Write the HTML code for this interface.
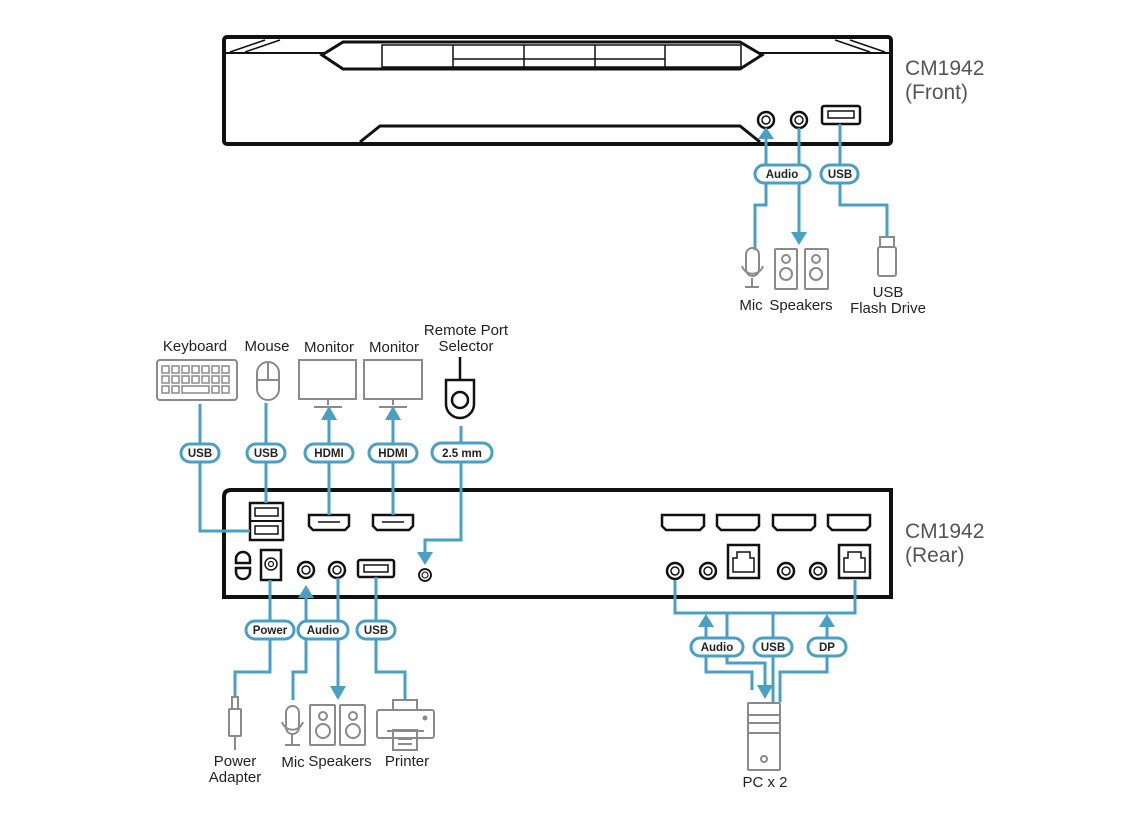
<!DOCTYPE html>
<html><head><meta charset="utf-8"><style>
html,body{margin:0;padding:0;background:#fff;}
svg{display:block;}
.t{font-family:"Liberation Sans",sans-serif;font-size:15px;fill:#222;}
.big{font-family:"Liberation Sans",sans-serif;font-size:21px;fill:#555;}
.pl{font-family:"Liberation Sans",sans-serif;font-size:11.5px;font-weight:bold;fill:#222;}
</style></head><body>
<svg width="1140" height="821" viewBox="0 0 1140 821" xmlns="http://www.w3.org/2000/svg">
<defs>
<g id="jack"><circle r="8" fill="#fff" stroke="#111" stroke-width="2.5"/><circle r="4" fill="none" stroke="#111" stroke-width="1.5"/></g>
</defs>
<!-- FRONT DEVICE -->
<g fill="none" stroke="#111">
<rect x="224" y="37" width="667" height="107" rx="3" stroke-width="4"/>
<line x1="226" y1="53" x2="889" y2="53" stroke-width="2"/>
<line x1="230" y1="52" x2="265" y2="40" stroke-width="1.5"/>
<line x1="245" y1="52" x2="280" y2="40" stroke-width="1.5"/>
<line x1="885" y1="52" x2="850" y2="40" stroke-width="1.5"/>
<line x1="870" y1="52" x2="835" y2="40" stroke-width="1.5"/>
<path d="M322 55 L343 42 L740 42 L762 55 L740 69 L343 69 Z" fill="#fff" stroke-width="3"/>
<rect x="382" y="45" width="359" height="22" stroke-width="1.5"/>
<path d="M453 45V67M524 45V67M595 45V67M665 45V67M453 59H665" stroke-width="1.5"/>
<path d="M360 142 L380 126 L740 126 L760 142" stroke-width="3"/>
<rect x="822" y="106" width="38" height="18" rx="2" stroke-width="2.5"/>
<rect x="828" y="111" width="26" height="7" stroke-width="1.5"/>
</g>
<use href="#jack" x="766" y="120"/><use href="#jack" x="799" y="120"/>
<text class="big" x="905" y="75">CM1942</text>
<text class="big" x="905" y="99">(Front)</text>

<!-- front connectors -->
<g fill="none" stroke="#4a9fc4" stroke-width="3">
<path d="M766 138V166M766 183V205H755V250"/>
<path d="M799 128V232"/>
<path d="M840 124V166M840 183V205H887V237"/>
</g>
<g fill="#4a9fc4"><path d="M758 139H774L766 127Z"/><path d="M791 232H807L799 245Z"/></g>
<g fill="#fff" stroke="#4a9fc4" stroke-width="3">
<rect x="755" y="165" width="55" height="18" rx="9"/><rect x="821" y="165" width="37" height="18" rx="9"/>
</g>
<text class="pl" x="782" y="178" text-anchor="middle">Audio</text>
<text class="pl" x="840" y="178" text-anchor="middle">USB</text>
<!-- front icons -->
<g fill="none" stroke="#8a8a8a" stroke-width="2">
<rect x="746" y="248" width="13" height="28" rx="6.5"/><path d="M742 266a11 11 0 0 0 21 0M752 278V287M745 287H759"/>
<rect x="775" y="249" width="22" height="40" rx="1"/><circle cx="786" cy="259" r="4"/><circle cx="786" cy="274" r="6"/>
<rect x="805" y="249" width="23" height="40" rx="1"/><circle cx="816" cy="259" r="4"/><circle cx="816" cy="274" r="6"/>
<rect x="880" y="237" width="14" height="10"/><rect x="878" y="247" width="18" height="29" rx="2"/>
</g>
<text class="t" x="751" y="310" text-anchor="middle">Mic</text>
<text class="t" x="801" y="310" text-anchor="middle">Speakers</text>
<text class="t" x="888" y="297" text-anchor="middle">USB</text>
<text class="t" x="888" y="313" text-anchor="middle">Flash Drive</text>

<!-- REAR DEVICE -->
<g fill="none" stroke="#111">
<path d="M224 597V497Q224 490 231 490H891V597Z" stroke-width="4"/>
<rect x="250" y="503" width="33" height="37" stroke-width="2.5"/><line x1="250" y1="521" x2="283" y2="521" stroke-width="2"/>
<rect x="255" y="508" width="23" height="8" stroke-width="1.5"/><rect x="255" y="526" width="23" height="8" stroke-width="1.5"/>
<path d="M309 515H349V526L345 530H313L309 526Z" stroke-width="2.5"/><line x1="318" y1="522" x2="340" y2="522" stroke-width="1.5"/>
<path d="M373 515H413V526L409 530H377L373 526Z" stroke-width="2.5"/><line x1="382" y1="522" x2="404" y2="522" stroke-width="1.5"/>
<path d="M236 563V559a7 7 0 0 1 14 0V563ZM236 568V572a7 7 0 0 0 14 0V568Z" stroke-width="2.5"/>
<rect x="261" y="550" width="20" height="30" stroke-width="2.5"/><circle cx="271" cy="564" r="6" stroke-width="1.5"/><circle cx="271" cy="564" r="2.5" stroke-width="1.2"/>
<rect x="358" y="560" width="36" height="17" rx="2" stroke-width="2.5"/><rect x="364" y="565" width="24" height="7" stroke-width="1.5"/>
<path d="M662 515H704V526L700 530H666L662 526Z" stroke-width="2.5" transform="translate(0,0)"/>
<path d="M717 515H759V526L755 530H721L717 526Z" stroke-width="2.5"/>
<path d="M773 515H815V526L811 530H777L773 526Z" stroke-width="2.5"/>
<path d="M828 515H870V526L866 530H832L828 526Z" stroke-width="2.5"/>
<rect x="728" y="545" width="31" height="33" stroke-width="2.5"/><path d="M737 552H750V558H754V572H733V558H737Z" stroke-width="1.5"/>
<rect x="839" y="545" width="31" height="33" stroke-width="2.5"/><path d="M848 552H861V558H865V572H844V558H848Z" stroke-width="1.5"/>
</g>
<use href="#jack" x="306" y="570"/><use href="#jack" x="337" y="570"/>
<g transform="translate(425,575) scale(0.75)"><use href="#jack"/></g>
<use href="#jack" x="675" y="571"/><use href="#jack" x="708" y="571"/>
<use href="#jack" x="786" y="571"/><use href="#jack" x="818" y="571"/>
<text class="big" x="905" y="538">CM1942</text>
<text class="big" x="905" y="562">(Rear)</text>

<!-- rear connectors -->
<g fill="none" stroke="#4a9fc4" stroke-width="3">
<path d="M200 404V445M200 462V531H250"/>
<path d="M266 403V445M266 462V503"/>
<path d="M329 420V445M329 462V515"/>
<path d="M393 420V445M393 462V515"/>
<path d="M461 426V445M461 462V540H425V552"/>
<path d="M270 580V621M270 640V672H235V697"/>
<path d="M306 598V621M306 640V672H293V700"/>
<path d="M338 578V688"/>
<path d="M376 577V621M376 640V672H405V700"/>
<path d="M675 580V613H855V580"/>
<path d="M706 626V639M706 656V672H752V690"/>
<path d="M727 613V663H765V686"/>
<path d="M773 613V639M773 656V702"/>
<path d="M827 626V639M827 656V672H780V702"/>
</g>
<g fill="#4a9fc4">
<path d="M321 420H337L329 406Z"/><path d="M385 420H401L393 406Z"/>
<path d="M417 552H433L425 565Z"/>
<path d="M298 598H314L306 585Z"/>
<path d="M330 686H346L338 700Z"/>
<path d="M698 627H714L706 614Z"/><path d="M819 627H835L827 614Z"/>
<path d="M757 685H773L765 699Z"/>
</g>
<g fill="#fff" stroke="#4a9fc4" stroke-width="3">
<rect x="181" y="444" width="38" height="18" rx="9"/>
<rect x="247" y="444" width="38" height="18" rx="9"/>
<rect x="305" y="444" width="48" height="18" rx="9"/>
<rect x="369" y="444" width="48" height="18" rx="9"/>
<rect x="432" y="443" width="60" height="19" rx="9.5"/>
<rect x="246" y="621" width="48" height="18" rx="9"/>
<rect x="298" y="621" width="50" height="18" rx="9"/>
<rect x="357" y="621" width="38" height="18" rx="9"/>
<rect x="691" y="638" width="52" height="18" rx="9"/>
<rect x="754" y="638" width="38" height="18" rx="9"/>
<rect x="808" y="638" width="38" height="18" rx="9"/>
</g>
<text class="pl" x="200" y="457" text-anchor="middle">USB</text>
<text class="pl" x="266" y="457" text-anchor="middle">USB</text>
<text class="pl" x="329" y="457" text-anchor="middle">HDMI</text>
<text class="pl" x="393" y="457" text-anchor="middle">HDMI</text>
<text class="pl" x="462" y="457" text-anchor="middle">2.5 mm</text>
<text class="pl" x="270" y="634" text-anchor="middle">Power</text>
<text class="pl" x="323" y="634" text-anchor="middle">Audio</text>
<text class="pl" x="376" y="634" text-anchor="middle">USB</text>
<text class="pl" x="717" y="651" text-anchor="middle">Audio</text>
<text class="pl" x="773" y="651" text-anchor="middle">USB</text>
<text class="pl" x="827" y="651" text-anchor="middle">DP</text>

<!-- rear top icons -->
<g fill="none" stroke="#8a8a8a" stroke-width="2">
<rect x="157" y="360" width="80" height="40" rx="3"/>
<g stroke-width="1.5">
<rect x="162" y="366" width="7" height="7"/><rect x="172" y="366" width="7" height="7"/><rect x="182" y="366" width="7" height="7"/><rect x="192" y="366" width="7" height="7"/><rect x="202" y="366" width="7" height="7"/><rect x="212" y="366" width="7" height="7"/><rect x="222" y="366" width="7" height="7"/>
<rect x="162" y="376" width="7" height="7"/><rect x="172" y="376" width="7" height="7"/><rect x="182" y="376" width="7" height="7"/><rect x="192" y="376" width="7" height="7"/><rect x="202" y="376" width="7" height="7"/><rect x="212" y="376" width="7" height="7"/><rect x="222" y="376" width="7" height="7"/>
<rect x="162" y="386" width="7" height="7"/><rect x="172" y="386" width="7" height="7"/><rect x="182" y="386" width="27" height="7"/><rect x="212" y="386" width="7" height="7"/><rect x="222" y="386" width="7" height="7"/>
</g>
<rect x="257" y="362" width="22" height="38" rx="11"/><path d="M257 380H279M268 362V380"/>
<rect x="299" y="360" width="57" height="39"/><path d="M328 399V405M314 407H342"/>
<rect x="364" y="360" width="58" height="39"/><path d="M393 399V405M379 407H407"/>
<rect x="277" y="699" width="0" height="0"/>
</g>
<g fill="none" stroke="#111" stroke-width="2.5">
<path d="M460 357V379"/><path d="M446 380H474V404a14 14 0 0 1-28 0Z"/><circle cx="460" cy="400" r="8"/>
</g>
<text class="t" x="195" y="351" text-anchor="middle">Keyboard</text>
<text class="t" x="267" y="351" text-anchor="middle">Mouse</text>
<text class="t" x="329" y="352" text-anchor="middle">Monitor</text>
<text class="t" x="394" y="352" text-anchor="middle">Monitor</text>
<text class="t" x="466" y="335" text-anchor="middle">Remote Port</text>
<text class="t" x="466" y="351" text-anchor="middle">Selector</text>

<!-- rear bottom icons -->
<g fill="none" stroke="#8a8a8a" stroke-width="2">
<rect x="232" y="697" width="6" height="12"/><rect x="229" y="709" width="12" height="27" rx="1"/><path d="M235 736V750"/>
<rect x="286" y="706" width="13" height="28" rx="6.5"/><path d="M282 722a11 11 0 0 0 21 0M292 734V745M285 745H300"/>
<rect x="310" y="705" width="25" height="40" rx="1"/><circle cx="323" cy="716" r="4"/><circle cx="323" cy="731" r="7"/>
<rect x="340" y="705" width="25" height="40" rx="1"/><circle cx="353" cy="716" r="4"/><circle cx="353" cy="731" r="7"/>
<rect x="393" y="700" width="24" height="10"/><rect x="377" y="710" width="57" height="28" rx="2"/><rect x="393" y="730" width="24" height="20"/><path d="M398 739H412M398 744H412M387 731H424"/>
<circle cx="425" cy="718" r="1.5" fill="#8a8a8a"/>
<rect x="748" y="703" width="32" height="67" rx="1"/><path d="M748 715H780M748 723H780M748 733H780"/><circle cx="764" cy="759" r="3"/>
</g>
<text class="t" x="235" y="766" text-anchor="middle">Power</text>
<text class="t" x="235" y="782" text-anchor="middle">Adapter</text>
<text class="t" x="293" y="767" text-anchor="middle">Mic</text>
<text class="t" x="340" y="766" text-anchor="middle">Speakers</text>
<text class="t" x="407" y="766" text-anchor="middle">Printer</text>
<text class="t" x="765" y="787" text-anchor="middle">PC x 2</text>
</svg>
</body></html>
